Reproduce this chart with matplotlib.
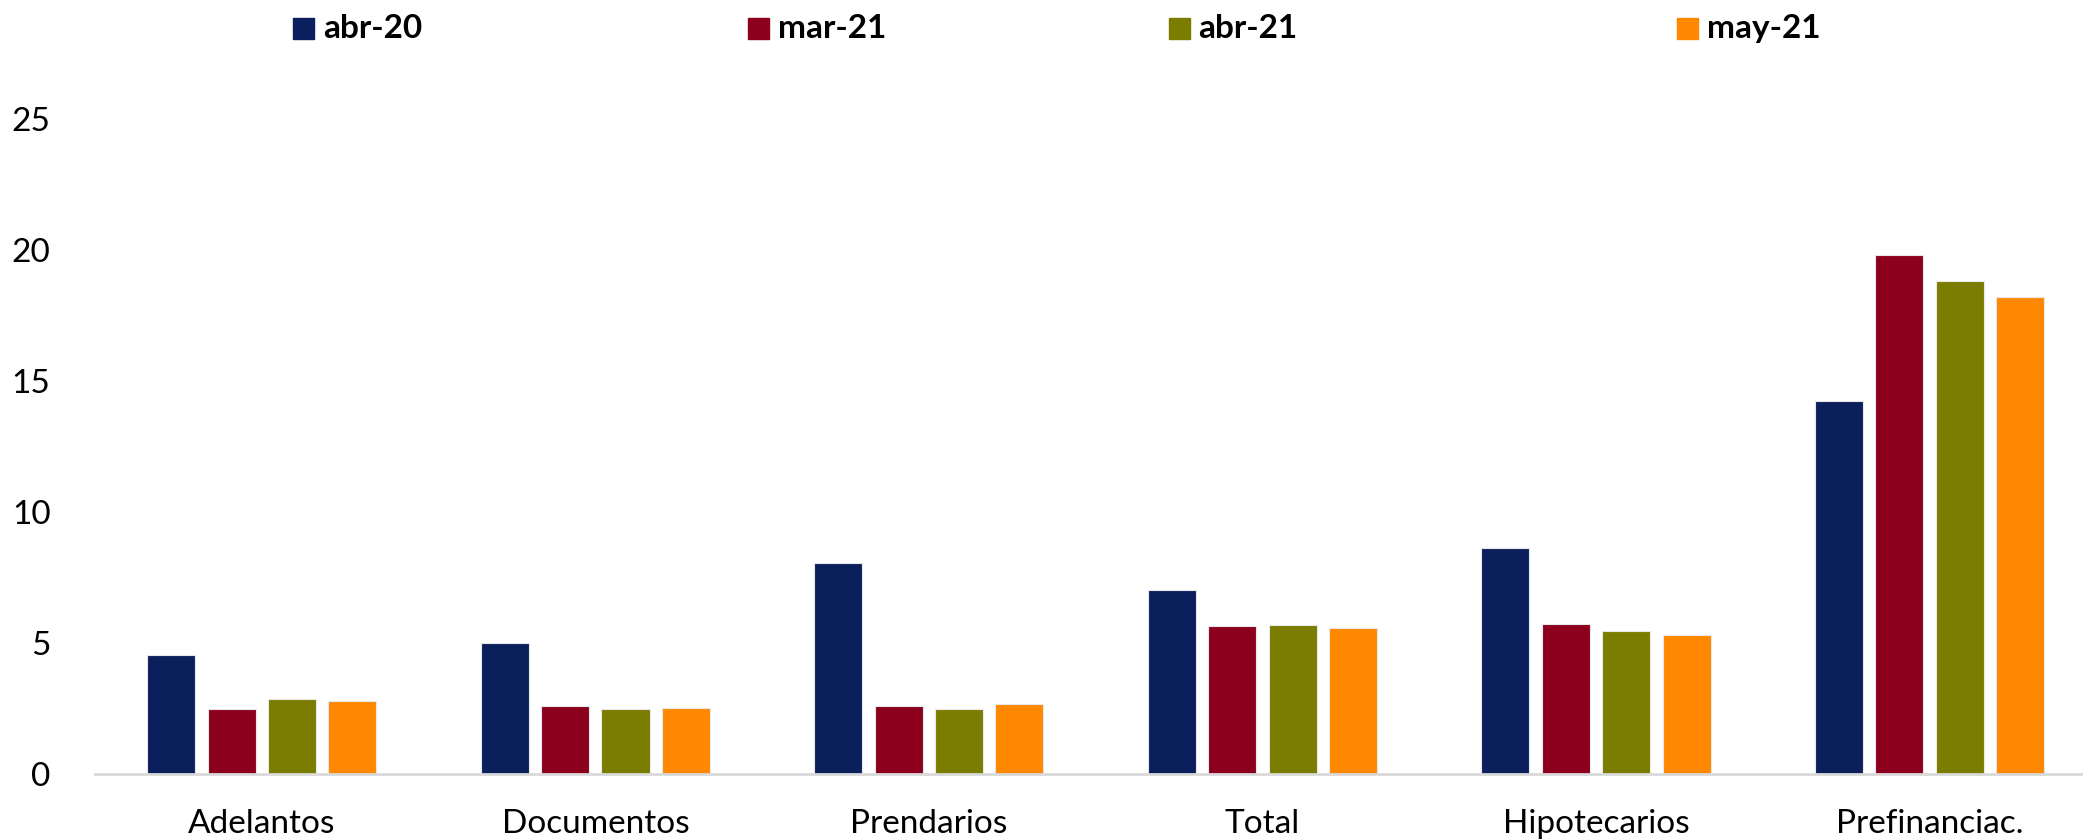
import matplotlib
matplotlib.use("Agg")
import matplotlib.pyplot as plt
import numpy as np
from matplotlib.patches import Rectangle

categories = ["Adelantos", "Documentos", "Prendarios", "Total", "Hipotecarios", "Prefinanciac."]
series_names = ["abr-20", "mar-21", "abr-21", "may-21"]
abr20 = [4.54, 4.99, 8.04, 7.02, 8.62, 14.24]
mar21 = [2.48, 2.58, 2.58, 5.65, 5.74, 19.80]
abr21 = [2.86, 2.49, 2.49, 5.68, 5.45, 18.81]
may21 = [2.77, 2.50, 2.67, 5.57, 5.30, 18.20]
colors = ["#0A1F5C", "#8C001E", "#7A7D00", "#FF8800"]

plt.rcParams['font.family'] = ['Lato', 'DejaVu Sans']


def main():
    fig = plt.figure(figsize=(20.83, 8.39), dpi=100)
    ax = fig.add_axes([0.0456, 0.0775, 0.9544, 0.7805])

    x = np.arange(len(categories))
    pitch = 0.181
    width = 0.144
    all_vals = [abr20, mar21, abr21, may21]
    for j, vals in enumerate(all_vals):
        ax.bar(x + (j - 1.5) * pitch, vals, width, color=colors[j],
               edgecolor="#e8e8e8", linewidth=0.8, label=series_names[j])

    ax.set_xlim(-0.5, 5.46)
    ax.set_ylim(0, 25)
    ax.set_yticks([0, 5, 10, 15, 20, 25])
    ax.set_xticks(x)
    ax.set_xticklabels(categories, fontsize=24)
    ax.tick_params(axis="x", length=0, pad=25)
    ax.tick_params(axis="y", length=0, pad=32, labelsize=24)
    for s in ["top", "right", "left"]:
        ax.spines[s].set_visible(False)
    ax.spines["bottom"].set_color("#d9d9d9")
    ax.spines["bottom"].set_linewidth(2)

    # legend drawn by hand so the uneven spacing matches
    leg_x = [0.1407, 0.359, 0.561, 0.805]
    sq_w = 21 / 2083
    sq_h = 21 / 839
    ly = 1 - 28.5 / 839
    for j in range(4):
        fig.patches.append(Rectangle((leg_x[j], ly - sq_h / 2), sq_w, sq_h,
                                     transform=fig.transFigure, color=colors[j]))
        fig.text(leg_x[j] + sq_w + 0.0043, ly, series_names[j], fontsize=24,
                 fontweight="bold", va="center", ha="left")

    fig.savefig("out.png", dpi=100)
    plt.close(fig)


if __name__ == "__main__":
    main()
